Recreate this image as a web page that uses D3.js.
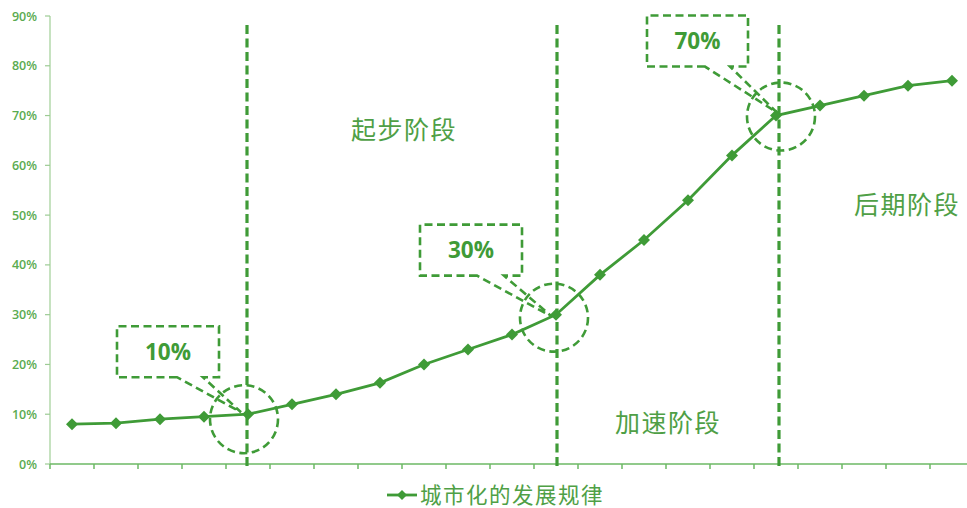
<!DOCTYPE html>
<html>
<head>
<meta charset="utf-8">
<script src="https://cdn.jsdelivr.net/npm/d3@7/dist/d3.min.js"></script>
<style>
  html, body { margin: 0; padding: 0; background: #fff; }
  svg { display: block; }
</style>
</head>
<body>
<svg id="chart" width="967" height="508"></svg>
<script>
// ---- data ----
const categories = d3.range(1, 22).map(String);
const seriesName = "城市化的发展规律";
const values = [8, 8.2, 9, 9.5, 10, 12, 14, 16.3, 20, 23, 26, 30, 38, 45, 53, 62, 70, 72, 74, 76, 77];
const yTicks = [0, 10, 20, 30, 40, 50, 60, 70, 80, 90];
const stageLabels = ["起步阶段", "加速阶段", "后期阶段"];
const thresholdIdx = [4, 11, 16];
const thresholdLabels = ["10%", "30%", "70%"];

// ---- layout ----
const W = 967, H = 508;
const green = "#3f9b37";
const textGreen = "#4f9f46";
const svg = d3.select("#chart");

const x = d3.scalePoint().domain(categories).range([50, 974]).padding(0.5);
const y = d3.scaleLinear().domain([0, 90]).range([464, 16]);
const step = x.step();

// y axis
const gy = svg.append("g");
gy.append("line").attr("x1", 50).attr("x2", 50).attr("y1", y(90)).attr("y2", y(0))
  .attr("stroke", "#b3d9ab").attr("stroke-width", 1.5);
gy.selectAll("line.tk").data(yTicks).join("line").attr("class", "tk")
  .attr("x1", 45).attr("x2", 50).attr("y1", d => y(d)).attr("y2", d => y(d))
  .attr("stroke", "#9dcb94").attr("stroke-width", 1.2);
gy.selectAll("text").data(yTicks).join("text")
  .attr("x", 37).attr("y", d => y(d)).attr("dy", "0.36em")
  .attr("text-anchor", "end")
  .attr("font-family", "'Open Sans', sans-serif").attr("font-weight", 600)
  .attr("font-size", 12.5).attr("fill", "#5aab50")
  .text(d => d + "%");

// x axis
const gx = svg.append("g");
gx.append("line").attr("x1", 50).attr("x2", W).attr("y1", y(0)).attr("y2", y(0))
  .attr("stroke", "#6cb864").attr("stroke-width", 1.5);
const bounds = d3.range(categories.length + 1).map(i => 50 + i * step);
gx.selectAll("line.tk").data(bounds).join("line").attr("class", "tk")
  .attr("x1", d => d).attr("x2", d => d).attr("y1", y(0)).attr("y2", y(0) + 5)
  .attr("stroke", "#6cb864").attr("stroke-width", 1.5);

// vertical dashed threshold lines
const vOff = [-1, 1, 3];
svg.selectAll("line.th").data(thresholdIdx).join("line").attr("class", "th")
  .attr("x1", (d, i) => x(categories[d]) + vOff[i]).attr("x2", (d, i) => x(categories[d]) + vOff[i])
  .attr("y1", 25).attr("y2", 470)
  .attr("stroke", green).attr("stroke-width", 3.2).attr("stroke-dasharray", "9,4.5");

// line series
const line = d3.line().x((d, i) => x(categories[i])).y(d => y(d));
svg.append("path").datum(values).attr("d", line)
  .attr("fill", "none").attr("stroke", green).attr("stroke-width", 2.8);

const diamond = r => `M0,${-r}L${r},0L0,${r}L${-r},0Z`;
svg.selectAll("path.mk").data(values).join("path").attr("class", "mk")
  .attr("transform", (d, i) => `translate(${x(categories[i])},${y(d)})`)
  .attr("d", diamond(6)).attr("fill", green);

// callouts (offsets relative to threshold point)
const callouts = [
  { circle: [-4, 5], box: [-131, -88, 102, 51], base: [-71, -45], tip: [-7, -2] },
  { circle: [-2, 3], box: [-136, -90, 102, 51], base: [-79, -52], tip: [-4, 2] },
  { circle: [5, 1], box: [-129, -100, 101, 51], base: [-71, -46], tip: [1, -3] }
];
thresholdIdx.forEach((idx, i) => {
  const px = x(categories[idx]), py = y(values[idx]);
  const c = callouts[i];
  svg.append("circle").attr("cx", px + c.circle[0]).attr("cy", py + c.circle[1]).attr("r", 34)
    .attr("fill", "none").attr("stroke", green).attr("stroke-width", 2.6).attr("stroke-dasharray", "8,4.5");
  const [bx, by, bw, bh] = c.box;
  const L = px + bx, T = py + by, R = L + bw, B = T + bh;
  const b1 = px + c.base[0], b2 = px + c.base[1];
  const tx = px + c.tip[0], ty = py + c.tip[1];
  const p = `M${b1},${B}L${L},${B}L${L},${T}L${R},${T}L${R},${B}L${b2},${B}L${tx},${ty}Z`;
  svg.append("path").attr("d", p).attr("fill", "none")
    .attr("stroke", green).attr("stroke-width", 2.6).attr("stroke-dasharray", "8,4.5");
  svg.append("text").attr("x", (L + R) / 2).attr("y", (T + B) / 2).attr("dy", "0.36em")
    .attr("text-anchor", "middle")
    .attr("font-family", "'Open Sans', sans-serif").attr("font-weight", 700)
    .attr("font-size", 22.5).attr("fill", green)
    .text(thresholdLabels[i]);
});

// stage labels
const stagePos = [[404, 130], [668, 423], [907, 205]];
svg.selectAll("text.stage").data(stageLabels).join("text").attr("class", "stage")
  .attr("x", (d, i) => stagePos[i][0]).attr("y", (d, i) => stagePos[i][1]).attr("dy", "0.36em")
  .attr("text-anchor", "middle")
  .attr("font-family", "'Noto Sans CJK SC', sans-serif").attr("font-size", 25)
  .attr("letter-spacing", 1.5)
  .attr("fill", textGreen).text(d => d);

// legend
const lg = svg.append("g");
lg.append("line").attr("x1", 387).attr("x2", 417).attr("y1", 495).attr("y2", 495)
  .attr("stroke", green).attr("stroke-width", 2.8);
lg.append("path").attr("transform", "translate(402,495)").attr("d", diamond(5)).attr("fill", green);
lg.append("text").attr("x", 420).attr("y", 495).attr("dy", "0.35em")
  .attr("font-family", "'Noto Sans CJK SC', sans-serif").attr("font-size", 21.5)
  .attr("letter-spacing", 1.5)
  .attr("fill", textGreen).text(seriesName);
</script>
</body>
</html>
